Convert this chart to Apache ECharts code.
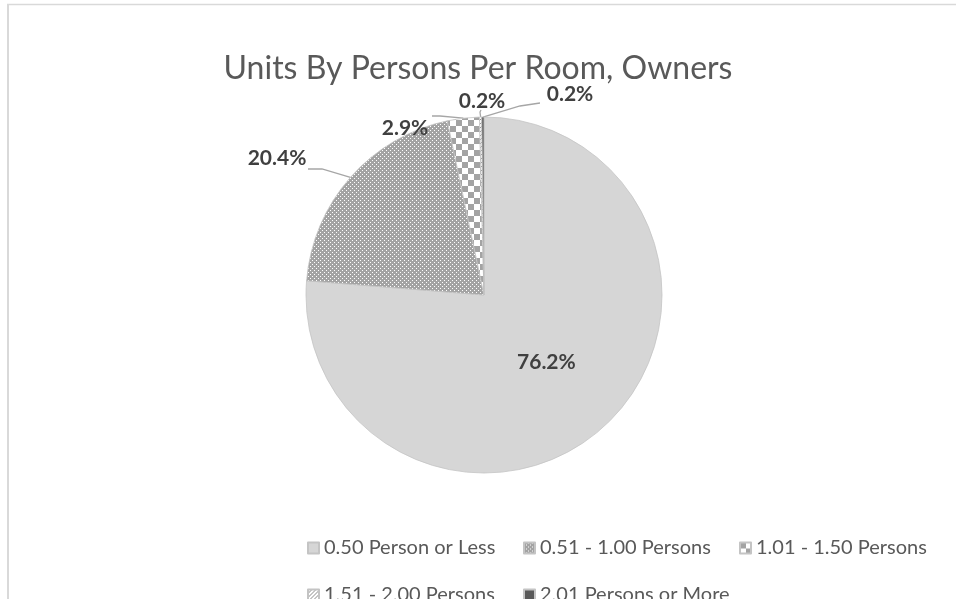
<!DOCTYPE html>
<html><head><meta charset="utf-8">
<script src="https://cdn.jsdelivr.net/npm/echarts@6/dist/echarts.min.js"></script>
<style>html,body{margin:0;padding:0;background:#fff}#c{width:956px;height:599px}</style>
</head><body><div id="c"></div>
<script>
const titleText = 'Units By Persons Per Room, Owners';
const categories = ['0.50 Person or Less', '0.51 - 1.00 Persons', '1.01 - 1.50 Persons', '1.51 - 2.00 Persons', '2.01 Persons or More'];
const values = [76.2, 20.4, 2.9, 0.2, 0.2];

function tile(w, h, draw) {
  const c = document.createElement('canvas');
  c.width = w; c.height = h;
  draw(c.getContext('2d'));
  return { image: c, repeat: 'repeat' };
}
const fills = [
  '#d6d6d6',
  tile(4, 4, g => { g.fillStyle = '#a3a3a3'; g.fillRect(0,0,4,4); g.fillStyle = '#ffffff'; g.fillRect(0,0,1,1); g.fillRect(2,2,1,1); }),
  tile(12, 12, g => { g.fillStyle = '#ffffff'; g.fillRect(0,0,12,12); g.fillStyle = '#a3a3a3'; g.fillRect(0,0,6,6); g.fillRect(6,6,6,6); }),
  tile(4, 4, g => { g.fillStyle = '#ffffff'; g.fillRect(0,0,4,4); g.strokeStyle = '#8c8c8c'; g.lineWidth = 1; g.beginPath(); g.moveTo(0,4); g.lineTo(4,0); g.stroke(); }),
  '#595959'
];

// label placement (pixel positions of outside labels and their elbows)
const labelSpots = [
  null,
  { x: 277, y: 158, bend: [322, 169], end: [308, 169] },
  { x: 405, y: 128, bend: [440, 116], end: [432, 116] },
  { x: 482, y: 101, bend: [480, 112], end: [481, 110] },
  { x: 570, y: 94, bend: [520, 106], end: [540, 103] }
];

const data = values.map((v, i) => ({
  name: categories[i],
  value: v,
  itemStyle: { color: fills[i] },
  label: i === 0 ? { position: 'inside' } : { position: 'outside' },
  labelLine: { show: i !== 0 }
}));

const chart = echarts.init(document.getElementById('c'), null, { renderer: 'canvas' });
chart.setOption({
  animation: false,
  backgroundColor: '#ffffff',
  title: {
    text: titleText, left: 'center', top: 48,
    textStyle: { fontFamily: 'Lato', fontSize: 32, fontWeight: 'normal', color: '#595959' }
  },
  graphic: [
    { type: 'line', shape: { x1: 8, y1: 4, x2: 8, y2: 600 }, style: { stroke: '#d9d9d9', lineWidth: 2 } },
    { type: 'line', shape: { x1: 7, y1: 4.5, x2: 960, y2: 4.5 }, style: { stroke: '#d9d9d9', lineWidth: 1.5 } }
  ],
  legend: {
    data: categories,
    left: 302, top: 530, width: 660,
    icon: 'rect', itemWidth: 11, itemHeight: 11, itemGap: 21, itemTextGap: 5,
    textStyle: { fontFamily: 'Lato', fontSize: 20, color: '#595959', width: 178, lineHeight: 26 },
    selectedMode: false
  },
  series: [{
    type: 'pie',
    center: [484, 295],
    radius: 178,
    startAngle: 90,
    clockwise: true,
    avoidLabelOverlap: false,
    itemStyle: { borderColor: '#c4c4c4', borderWidth: 0.8 },
    label: {
      show: true,
      formatter: p => p.value.toFixed(1) + '%',
      fontFamily: 'Lato', fontSize: 21, fontWeight: 'bold', color: '#404040'
    },
    labelLine: { lineStyle: { color: '#a6a6a6', width: 1.3 } },
    labelLayout: function (p) {
      const s = labelSpots[p.dataIndex];
      if (!s) return {};
      const e = p.labelLinePoints ? p.labelLinePoints[0] : s.bend;
      return { x: s.x, y: s.y, align: 'center', verticalAlign: 'middle', labelLinePoints: [e, s.bend, s.end] };
    },
    emphasis: { disabled: true },
    data: data
  }]
});
</script></body></html>
